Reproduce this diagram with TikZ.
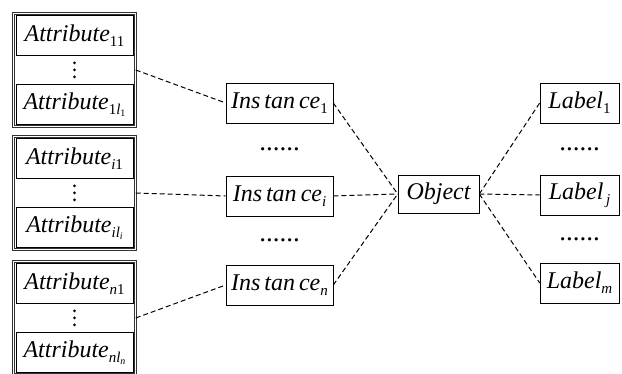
\documentclass[tikz,border=0pt]{standalone}
\usepackage{fontspec}
\setmainfont{Liberation Serif}
\usetikzlibrary{positioning,calc}
% lowered indices for the box texts
\newcommand{\lowidx}[1]{\raisebox{-0.45ex}{\upshape\fontsize{15}{15}\selectfont #1}}
\newcommand{\lowlowidx}[1]{\raisebox{-0.35ex}{\upshape\fontsize{10}{10}\selectfont #1}}
\tikzset{%
  % Specifications for style of nodes:
          base/.style = {rectangle, draw=black, line width=0.6pt, inner sep=0pt,
                         text centered, font=\fontsize{24}{28}\selectfont\itshape},
     attribute/.style = {base, minimum width=117pt, minimum height=40pt},
     attrgroup/.style = {rectangle, draw=black!80, line width=0.5pt, double=white,
                         double distance=1.3pt, minimum width=122pt, minimum height=113pt},
      instance/.style = {base, minimum width=107pt, minimum height=40pt},
     objectbox/.style = {base, minimum width=81pt, minimum height=38pt},
      labelbox/.style = {base, minimum width=79pt, minimum height=40pt},
         hdotz/.style = {inner sep=0pt, font=\fontsize{27}{27}\selectfont},
          link/.style = {line width=1pt, dash pattern=on 5pt off 3pt},
}
\begin{document}
\begin{tikzpicture}[x=1pt, y=-1pt]
  \clip (0,0) rectangle (622,374);
  % Attribute groups (left column)
  \node (grp1)   [attrgroup] at (74.5,70)  {};
  \node (attr11) [attribute, below=2pt of grp1.north] {Attribute\lowidx{11}};
  \node (attr1l) [attribute, above=2pt of grp1.south] {Attribute\lowidx{1\textit{l}\lowlowidx{1}}};
  \coordinate (dots1) at ($(attr11.south)!0.5!(attr1l.north)$);

  \node (grpi)   [attrgroup] at (74.5,193) {};
  \node (attri1) [attribute, below=2pt of grpi.north] {Attribute\lowidx{\textit{i}1}};
  \node (attril) [attribute, above=2pt of grpi.south] {Attribute\lowidx{\textit{il}\lowlowidx{\textit{i}}}};
  \coordinate (dotsi) at ($(attri1.south)!0.5!(attril.north)$);

  \node (grpn)   [attrgroup] at (74.5,318) {};
  \node (attrn1) [attribute, below=2pt of grpn.north] {Attribute\lowidx{\textit{n}1}};
  \node (attrnl) [attribute, above=2pt of grpn.south] {Attribute\lowidx{\textit{nl}\lowlowidx{\textit{n}}}};
  \coordinate (dotsn) at ($(attrn1.south)!0.5!(attrnl.north)$);

  % vertical dots inside the groups
  \foreach \d in {dots1,dotsi,dotsn}
    \foreach \k in {-7,0,7}
      \fill ($(\d)+(0pt,\k pt)$) circle (1.5pt);

  % Instances
  \node (inst1)  [instance] at (279.5,103) {Ins\,tan\,ce\lowidx{1}};
  \node (insti)  [instance] at (279.5,196) {Ins\,tan\,ce\lowidx{\textit{i}}};
  \node (instn)  [instance] at (279.5,285) {Ins\,tan\,ce\lowidx{\textit{n}}};
  \node (idots1) [hdotz] at ($(inst1.south)!0.5!(insti.north)$) {......};
  \node (idots2) [hdotz] at ($(insti.south)!0.5!(instn.north)$) {......};

  % Object and labels
  \node (object) [objectbox] at (438.5,194) {Object};
  \node (label1) [labelbox] at (579.5,103) {Label\lowidx{1}};
  \node (labelj) [labelbox] at (579.5,195) {Label\lowidx{\,\textit{j}}};
  \node (labelm) [labelbox] at (579.5,283) {Label\lowidx{\textit{m}}};
  \node (ldots1) [hdotz] at ($(label1.south)!0.5!(labelj.north)$) {......};
  \node (ldots2) [hdotz] at ($(labelj.south)!0.5!(labelm.north)$) {......};

  % dashed lines between nodes
  \draw[link] (grp1.east) -- (inst1.west);
  \draw[link] (grpi.east) -- (insti.west);
  \draw[link] (grpn.east) -- (instn.west);

  \draw[link] (inst1.east) -- (object.west);
  \draw[link] (insti.east) -- (object.west);
  \draw[link] (instn.east) -- (object.west);

  \draw[link] (object.east) -- (label1.west);
  \draw[link] (object.east) -- (labelj.west);
  \draw[link] (object.east) -- (labelm.west);
\end{tikzpicture}
\end{document}
